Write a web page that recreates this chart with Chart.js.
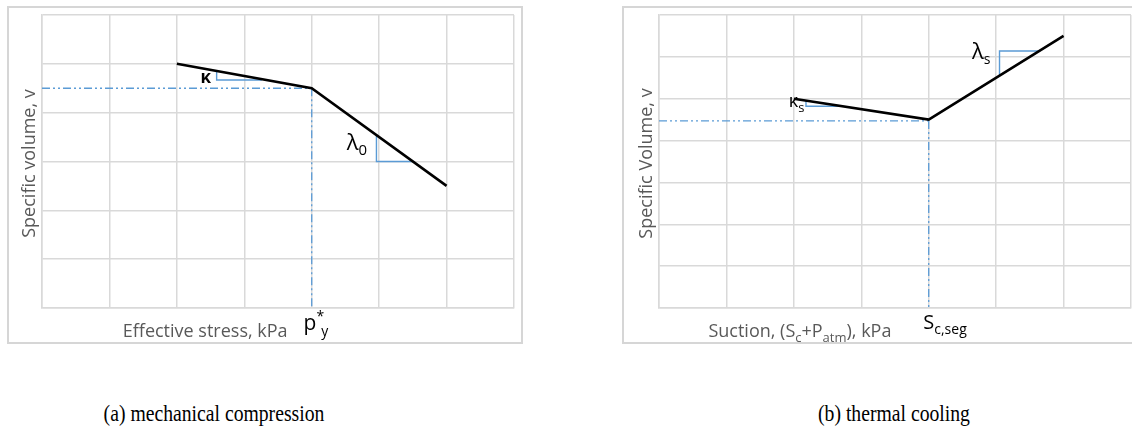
<!DOCTYPE html>
<html>
<head>
<meta charset="utf-8">
<script src="https://cdn.jsdelivr.net/npm/chart.js@4/dist/chart.umd.min.js"></script>
<style>
  html, body { margin: 0; padding: 0; background: #fff; }
  body { width: 1132px; height: 440px; position: relative; overflow: hidden; }
  .frame { position: absolute; border: 2px solid #d6d6d6; box-sizing: border-box; background: #fff; }
  canvas { position: absolute; }
  .caption { position: absolute; top: 398px; font-family: "Liberation Serif", "Times New Roman", serif; font-size: 24px; line-height: 30px; color: #000; white-space: nowrap; transform: translateX(-50%) scaleX(0.82); }
</style>
</head>
<body>
<div class="frame" style="left:7px; top:6px; width:516px; height:338px;"></div>
<div class="frame" style="left:622px; top:6px; width:540px; height:338px;"></div>
<canvas id="mech" width="560" height="350" style="left:0; top:0;"></canvas>
<canvas id="therm" width="560" height="350" style="left:600px; top:0;"></canvas>
<div class="caption" style="left:214px;">(a) mechanical compression</div>
<div class="caption" style="left:894px;">(b) thermal cooling</div>
<script>
// (a) mechanical compression: specific volume against effective stress
const mechStress = [2, 4, 6];
const mechVolume = [5, 4.5, 2.5];
const mechYieldStress = 4;
const mechYieldVolume = 4.5;
const mechKappaX = [2.59, 2.59, 3.26];
const mechKappaY = [4.85, 4.67, 4.67];
const mechLambdaX = [4.96, 4.96, 5.51];
const mechLambdaY = [3.54, 3.0, 3.0];
const mechAxisMax = { x: 7, y: 6 };

// (b) thermal cooling: specific volume against suction
const suction = [2, 4, 6];
const thermVolume = [5, 4.5, 6.5];
const thermYieldSuction = 4;
const thermYieldVolume = 4.47;
const thermKappaX = [2.18, 2.18, 2.68];
const thermKappaY = [4.95, 4.82, 4.82];
const thermLambdaX = [5.05, 5.05, 5.63];
const thermLambdaY = [5.55, 6.14, 6.14];
const thermAxisMax = { x: 7, y: 7 };

const BLUE = '#5b9bd5';
const GRID = '#d9d9d9';
const AXIS_TEXT = '#595959';
const SANS = '"Open Sans", "Liberation Sans", sans-serif';

function pts(xs, ys) { return xs.map((x, i) => ({ x, y: ys[i] })); }

function curve(xs, ys) {
  return { data: pts(xs, ys), showLine: true, borderColor: '#000', borderWidth: 2.6, pointRadius: 0, order: 0 };
}
function guide(xs, ys) {
  return { data: pts(xs, ys), showLine: true, borderColor: BLUE, borderWidth: 1.3, borderDash: [8, 3, 2, 3, 2, 3], pointRadius: 0, order: 2 };
}
function slope(xs, ys) {
  return { data: pts(xs, ys), showLine: true, borderColor: BLUE, borderWidth: 1.4, pointRadius: 0, order: 1 };
}

// Draws a run of text pieces (base, sub/superscript) starting at x on baseline y.
function drawRich(ctx, parts, x, y, align) {
  let total = 0;
  parts.forEach(p => {
    ctx.font = (p.weight || 'normal') + ' ' + p.size + 'px ' + SANS;
    p.w = ctx.measureText(p.text).width;
    total += p.w + (p.gap || 0);
  });
  let cx = align === 'center' ? x - total / 2 : (align === 'right' ? x - total : x);
  parts.forEach(p => {
    ctx.font = (p.weight || 'normal') + ' ' + p.size + 'px ' + SANS;
    ctx.fillStyle = p.color || '#000';
    ctx.textBaseline = 'alphabetic';
    ctx.textAlign = 'left';
    cx += (p.gap || 0);
    ctx.fillText(p.text, cx, y + (p.dy || 0));
    cx += p.w;
  });
}

// Places annotation text at data coordinates, optionally offset below the plot area.
const annotate = {
  id: 'annotate',
  afterDraw(chart, args, opts) {
    const ctx = chart.ctx;
    const xs = chart.scales.x, ys = chart.scales.y, area = chart.chartArea;
    ctx.save();
    (opts.items || []).forEach(it => {
      const px = xs.getPixelForValue(it.x);
      const py = it.below !== undefined ? area.bottom + it.below : ys.getPixelForValue(it.y);
      drawRich(ctx, it.parts, px, py, it.align || 'center');
    });
    if (opts.yTitle) {
      ctx.translate(area.left - opts.yTitle.offset, (area.top + area.bottom) / 2 + opts.yTitle.shift);
      ctx.rotate(-Math.PI / 2);
      drawRich(ctx, opts.yTitle.parts, 0, 0, 'center');
    }
    ctx.restore();
  }
};

function makeChart(id, datasets, maxes, padding, items, yTitleText) {
  return new Chart(document.getElementById(id), {
    type: 'scatter',
    data: { datasets },
    options: {
      responsive: false,
      animation: false,
      layout: { padding },
      plugins: {
        legend: { display: false },
        tooltip: { enabled: false },
        annotate: {
          items,
          yTitle: { parts: [{ text: yTitleText, size: 18, color: AXIS_TEXT }], offset: 7, shift: 2 }
        }
      },
      scales: {
        x: {
          type: 'linear', min: 0, max: maxes.x,
          ticks: { display: false, stepSize: 1 },
          grid: { color: GRID, lineWidth: 1.5, drawTicks: false },
          border: { color: GRID, width: 1.5 }
        },
        y: {
          type: 'linear', min: 0, max: maxes.y,
          ticks: { display: false, stepSize: 1 },
          grid: { color: GRID, lineWidth: 1.5, drawTicks: false },
          border: { color: GRID, width: 1.5 }
        }
      }
    },
    plugins: [annotate]
  });
}

makeChart('mech', [
  curve(mechStress, mechVolume),
  guide([0, mechYieldStress], [mechYieldVolume, mechYieldVolume]),
  guide([mechYieldStress, mechYieldStress], [mechYieldVolume, 0]),
  slope(mechKappaX, mechKappaY),
  slope(mechLambdaX, mechLambdaY)
], mechAxisMax, { left: 42, right: 46, top: 15, bottom: 42 }, [
  { x: 2.43, y: 4.6, parts: [{ text: 'κ', size: 17, weight: 'bold' }] },
  { x: 4.67, y: 3.24, parts: [{ text: 'λ', size: 22 }, { text: '0', size: 15, dy: 5 }] },
  { x: 2.42, below: 29, parts: [{ text: 'Effective stress, kPa', size: 18, color: AXIS_TEXT }] },
  { x: 3.88, below: 22, align: 'left', parts: [{ text: 'p', size: 21 }, { text: '*', size: 14, dy: -9 }, { text: 'y', size: 14, dy: 6, gap: -3 }] }
], 'Specific volume, v');

makeChart('therm', [
  curve(suction, thermVolume),
  guide([0, thermYieldSuction], [thermYieldVolume, thermYieldVolume]),
  guide([thermYieldSuction, thermYieldSuction], [thermYieldVolume, 0]),
  slope(thermKappaX, thermKappaY),
  slope(thermLambdaX, thermLambdaY)
], thermAxisMax, { left: 59, right: 29, top: 15, bottom: 42 }, [
  { x: 2.04, y: 4.8, parts: [{ text: 'κ', size: 18 }, { text: 's', size: 13, dy: 5 }] },
  { x: 4.78, y: 5.96, parts: [{ text: 'λ', size: 22 }, { text: 's', size: 14, dy: 5 }] },
  { x: 2.09, below: 29, parts: [
    { text: 'Suction, (S', size: 18, color: AXIS_TEXT },
    { text: 'c', size: 13, dy: 5, color: AXIS_TEXT },
    { text: '+P', size: 18, color: AXIS_TEXT },
    { text: 'atm', size: 13, dy: 5, color: AXIS_TEXT },
    { text: '), kPa', size: 18, color: AXIS_TEXT }
  ] },
  { x: 3.92, below: 21, align: 'left', parts: [{ text: 'S', size: 20 }, { text: 'c,seg', size: 14, dy: 5 }] }
], 'Specific Volume, v');
</script>
</body>
</html>
